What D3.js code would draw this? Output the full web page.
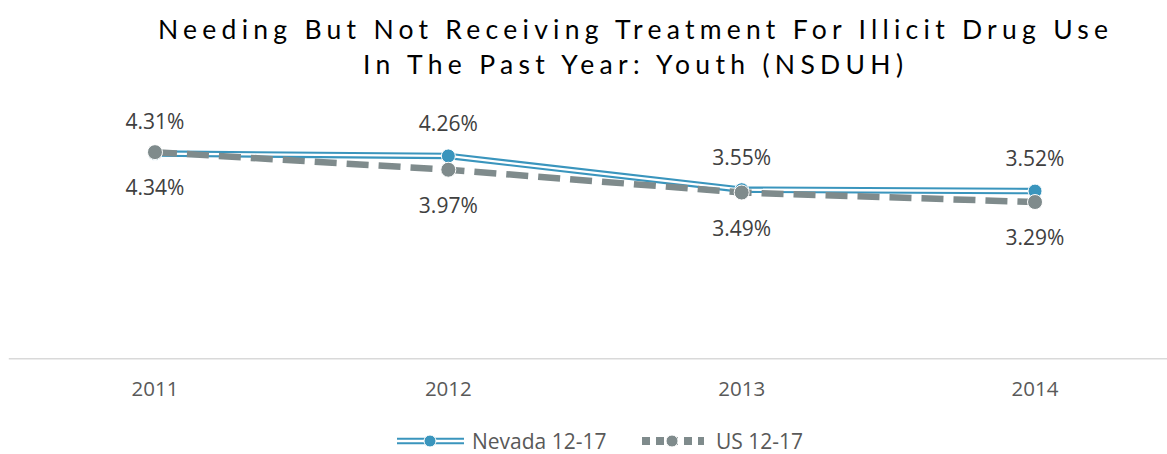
<!DOCTYPE html>
<html>
<head>
<meta charset="utf-8">
<script src="https://cdn.jsdelivr.net/npm/d3@7/dist/d3.min.js"></script>
<style>
  html, body { margin: 0; padding: 0; background: #fff; }
  svg { display: block; }
</style>
</head>
<body>
<script>
// Chart data
const years = ["2011", "2012", "2013", "2014"];
const nevada = [4.31, 4.26, 3.55, 3.52];
const us = [4.34, 3.97, 3.49, 3.29];
const seriesNames = ["Nevada 12-17", "US 12-17"];
const titleLines = [
  "Needing But Not Receiving Treatment For Illicit Drug Use",
  "In The Past Year: Youth (NSDUH)"
];

const W = 1167, H = 454;
const blue = "#3a95bd", grey = "#7f8b8c";
const font = "'Open Sans', sans-serif";

const svg = d3.select("body").append("svg").attr("width", W).attr("height", H);

// Title
const title = svg.append("g").attr("font-family", "Lato, 'Open Sans', sans-serif")
  .attr("font-size", 26.5).attr("fill", "#000").attr("text-anchor", "middle");
title.append("text").attr("x", 633).attr("y", 39).attr("textLength", 950)
  .attr("lengthAdjust", "spacing").text(titleLines[0]);
title.append("text").attr("x", 633).attr("y", 74).attr("textLength", 540)
  .attr("lengthAdjust", "spacing").text(titleLines[1]);

// Scales
const x = d3.scaleBand().domain(years).range([8.3, 1181.7]);
const cx = d => x(d) + x.bandwidth() / 2;
const y = d3.scaleLinear().domain([0, 5]).range([358.3, 120.8]);

// Category axis
const axis = svg.append("g").attr("transform", `translate(0,${y(0)})`)
  .call(d3.axisBottom(x).tickSize(0).tickPadding(23));
axis.select(".domain").attr("stroke", "#d9d9d9").attr("stroke-width", 1.5);
axis.selectAll("text").attr("font-family", font)
  .attr("font-size", 20.5).attr("fill", "#595959");

const line = d3.line().x((d, i) => cx(years[i])).y(d => y(d));

// Nevada: double (compound) line
svg.append("path").datum(nevada).attr("d", line).attr("fill", "none")
  .attr("stroke", blue).attr("stroke-width", 6.5);
svg.append("path").datum(nevada).attr("d", line).attr("fill", "none")
  .attr("stroke", "#fff").attr("stroke-width", 2.3);
svg.selectAll(".nvpt").data(nevada).join("circle").attr("class", "nvpt")
  .attr("cx", (d, i) => cx(years[i])).attr("cy", d => y(d)).attr("r", 7)
  .attr("fill", blue).attr("stroke", "#fff").attr("stroke-width", 1);

// US: long-dash line
svg.append("path").datum(us).attr("d", line).attr("fill", "none")
  .attr("stroke", grey).attr("stroke-width", 6.5).attr("stroke-dasharray", "22,10");
svg.selectAll(".uspt").data(us).join("circle").attr("class", "uspt")
  .attr("cx", (d, i) => cx(years[i])).attr("cy", d => y(d)).attr("r", 7.5)
  .attr("fill", grey).attr("stroke", "#fff").attr("stroke-width", 1);

// Value labels
const fmt = d => d.toFixed(2) + "%";
const labelStyle = sel => sel.attr("font-family", font)
  .attr("font-size", 21).attr("fill", "#404040").attr("text-anchor", "middle");
svg.selectAll(".nvlab").data(nevada).join("text").attr("class", "nvlab")
  .attr("x", (d, i) => cx(years[i])).attr("y", d => y(d) - 25).text(fmt).call(labelStyle);
svg.selectAll(".uslab").data(us).join("text").attr("class", "uslab")
  .attr("x", (d, i) => cx(years[i])).attr("y", d => y(d) + 43).text(fmt).call(labelStyle);

// Legend
const ly = 441;
const lg = svg.append("g");
lg.append("line").attr("x1", 397).attr("x2", 464).attr("y1", ly).attr("y2", ly)
  .attr("stroke", blue).attr("stroke-width", 6.5);
lg.append("line").attr("x1", 397).attr("x2", 464).attr("y1", ly).attr("y2", ly)
  .attr("stroke", "#fff").attr("stroke-width", 2.3);
lg.append("circle").attr("cx", 430).attr("cy", ly).attr("r", 6).attr("fill", blue)
  .attr("stroke", "#fff").attr("stroke-width", 1);
lg.append("text").attr("x", 472).attr("y", ly + 7.5).text(seriesNames[0])
  .attr("font-family", font).attr("font-size", 21).attr("fill", "#595959");

lg.append("line").attr("x1", 642).attr("x2", 704).attr("y1", ly).attr("y2", ly)
  .attr("stroke", grey).attr("stroke-width", 8).attr("stroke-dasharray", "8,6");
lg.append("circle").attr("cx", 672).attr("cy", ly).attr("r", 6).attr("fill", grey)
  .attr("stroke", "#fff").attr("stroke-width", 1);
lg.append("text").attr("x", 716).attr("y", ly + 7.5).text(seriesNames[1])
  .attr("font-family", font).attr("font-size", 21).attr("fill", "#595959");
</script>
</body>
</html>
